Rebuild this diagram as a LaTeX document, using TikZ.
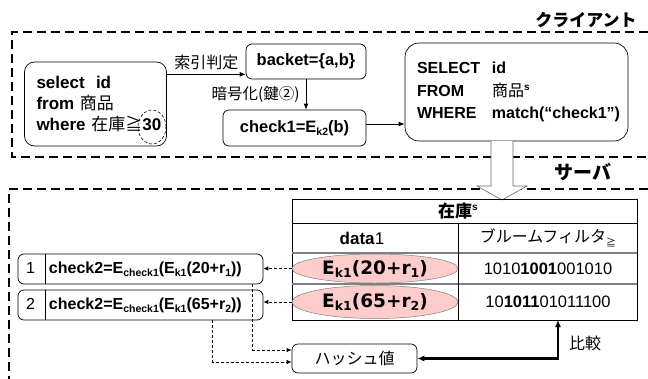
\documentclass[tikz,border=0pt]{standalone}
\usepackage{fontspec}
\setmainfont{Liberation Sans}
\newfontfamily\jp{Noto Sans CJK JP}
\newfontfamily\vd{DejaVu Sans}
\usetikzlibrary{arrows.meta,shapes.geometric,calc}
\definecolor{pinkfill}{RGB}{255,204,204}
% lowered small index set in the current family
\newcommand\lsub[1]{\raisebox{-0.35ex}{\fontsize{10.5}{10.5}\selectfont #1}}
\newcommand\bsub[1]{\raisebox{-0.3ex}{\fontsize{12.5}{12.5}\selectfont #1}}
\newcommand\usup[1]{\raisebox{0.7ex}{\fontsize{10}{10}\selectfont #1}}
\tikzset{
  base/.style={font=\fontsize{16}{20}\selectfont, inner sep=0pt},
  zone/.style={line width=1.8pt, dash pattern=on 9pt off 5pt},
  rbox/.style={base, draw, line width=0.7pt, rounded corners=6pt},
  arr/.style={-{Latex[length=6pt,width=5pt]}, line width=0.9pt},
  darr/.style={-{Latex[length=5pt,width=4.5pt]}, line width=0.8pt, dash pattern=on 3pt off 2pt},
  thk/.style={{Latex[length=7pt,width=6pt]}-{Latex[length=7pt,width=6pt]}, line width=2.4pt},
  cell/.style={base},
  blob/.style={ellipse, draw=gray, line width=0.5pt, fill=pinkfill, inner sep=0pt,
    font=\vd\bfseries\fontsize{18.5}{20}\selectfont},
}
\begin{document}
\begin{tikzpicture}[x=1pt,y=-1pt]
\useasboundingbox (0,0) rectangle (648,378);
\fill[white] (0,0) rectangle (648,378);

% client and server zones
\draw[zone] (648,32) -- (12,32) -- (12,157) -- (648,157);
\draw[zone] (648,189) -- (9,189) -- (9,380);
\node[base, font=\jp\bfseries\fontsize{17}{20}\selectfont] (clientlbl) at (586,20) {クライアント};
\node[base, font=\jp\bfseries\fontsize{19}{20}\selectfont] (serverlbl) at (583,172) {サーバ};

% client side query
\node[rbox, rounded corners=10pt, minimum width=142, minimum height=84,
  text width=118, align=left, font=\bfseries\fontsize{17}{21}\selectfont] (q) at (95.5,104)
  {\mbox{select\ \ id}\\\mbox{from {\jp\mdseries 商品}}\\\mbox{where {\jp\mdseries 在庫≧}30}};
\node[ellipse, draw, densely dashed, line width=0.6pt, minimum width=28, minimum height=34] (thirty) at (152,127) {};

\node[rbox, minimum width=120, minimum height=35, font=\bfseries\fontsize{16.5}{20}\selectfont] (b) at (306,61.5) {backet=\{a,b\}};
\node[rbox, minimum width=143, minimum height=36, font=\bfseries\fontsize{16.5}{20}\selectfont] (c) at (294.5,128) {check1=E\lsub{k2}(b)};

\node[rbox, rounded corners=14pt, minimum width=223, minimum height=98, text width=199, align=left,
  font=\bfseries\fontsize{16}{22.5}\selectfont] (s) at (516.5,92)
  {\makebox[75pt][l]{SELECT}id\\\makebox[75pt][l]{FROM}{\jp\mdseries 商品}\usup{s}\\\makebox[75pt][l]{WHERE}match(“check1”)};

\coordinate (bin) at ([yshift=5pt]b.south west);
\coordinate (cout) at ([yshift=4pt]c.east);
\draw[arr] (q.east |- bin) -- (bin)
  node[midway, above=4pt, base, font=\jp\fontsize{16}{20}\selectfont] {索引判定};
\draw[arr] (b.south) -- (b.south |- c.north)
  node[midway, left=6pt, base, font=\jp\fontsize{15.5}{20}\selectfont] {暗号化(鍵②)};
\draw[arr] (cout) -- (cout -| s.west);

% hollow arrow from the client query down to the server table
\coordinate (ha) at (502,141);
\draw[fill=white, draw=gray!80!black, line width=0.6pt]
  ($(ha)+(-11,0)$) -- ($(ha)+(-11,45)$) -- ($(ha)+(-25,45)$) -- ($(ha)+(0,59)$)
  -- ($(ha)+(25,45)$) -- ($(ha)+(11,45)$) -- ($(ha)+(11,0)$);

% server table
\draw[line width=0.8pt] (292,199) rectangle (637,320);
\draw[line width=0.8pt] (292,223) -- (637,223);
\draw[gray, line width=1.2pt] (292,253) -- (637,253);
\draw[gray, line width=1.6pt] (292,284) -- (637,284);
\draw[line width=0.8pt] (458,223) -- (458,320);
\node[cell, font=\jp\bfseries\fontsize{17}{20}\selectfont] (th) at (458,211) {在庫\usup{\rmfamily s}};
\node[cell, font=\fontsize{17}{20}\selectfont] (tdata) at (362,238) {\textbf{data}1};
\node[cell, font=\jp\fontsize{16}{20}\selectfont] (tbloom) at (548,238) {ブルームフィルタ\raisebox{-0.45ex}{\fontsize{10}{10}\selectfont ≧}};
\node[blob, minimum width=166, minimum height=29] (e1) at (375,268.5) {E\bsub{k1}(20+r\bsub{1})};
\node[blob, minimum width=166, minimum height=33] (e2) at (375,302) {E\bsub{k1}(65+r\bsub{2})};
\node[cell, font=\fontsize{16.5}{20}\selectfont] (bits1) at (548,268.5) {1010\textbf{1001}001010};
\node[cell, font=\fontsize{16.5}{20}\selectfont] (bits2) at (548,302) {10\textbf{1011}01011100};

% server side result rows
\node[rbox, minimum width=245, minimum height=30, text width=229, align=left] (r1) at (140.5,269)
  {\makebox[23pt][l]{1}\textbf{check2=E\lsub{check1}(E\lsub{k1}(20+r\lsub{1}))}};
\node[rbox, minimum width=245, minimum height=30, text width=229, align=left] (r2) at (140.5,305)
  {\makebox[23pt][l]{2}\textbf{check2=E\lsub{check1}(E\lsub{k1}(65+r\lsub{2}))}};
\draw[line width=0.7pt] ([xshift=28pt]r1.north west) -- ([xshift=28pt]r1.south west);
\draw[line width=0.7pt] ([xshift=28pt]r2.north west) -- ([xshift=28pt]r2.south west);

\draw[darr] (e1.west) -- (e1.west -| r1.east);
\draw[darr] (e2.west) -- (e2.west -| r2.east);

\node[rbox, minimum width=125, minimum height=29, font=\jp\fontsize{16}{20}\selectfont] (h) at (354.5,358.5) {ハッシュ値};
\coordinate (h1) at ([yshift=8.5pt]h.west);
\coordinate (h2) at ([yshift=-3.5pt]h.west);
\draw[darr] ([xshift=-11pt]r1.south east) |- (h1);
\draw[darr] ([xshift=-51pt]r2.south east) |- (h2);

\coordinate (cmp) at (558,320);
\draw[thk] (h.east) -| (cmp);
\node[base, font=\jp\fontsize{16}{20}\selectfont] (cmplbl) at (585,343) {比較};
\end{tikzpicture}
\end{document}
